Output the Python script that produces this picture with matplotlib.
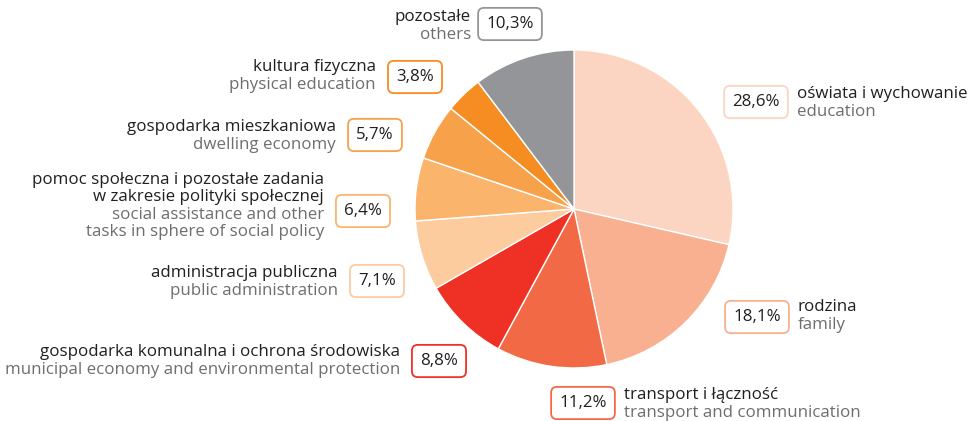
import matplotlib.pyplot as plt

# struktura wydatków
values = [28.6, 18.1, 11.2, 8.8, 7.1, 6.4, 5.7, 3.8, 10.3]
labels_pl = ["oświata i wychowanie", "rodzina", "transport i łączność",
             "gospodarka komunalna i ochrona środowiska", "administracja publiczna",
             "pomoc społeczna i pozostałe zadania\nw zakresie polityki społecznej",
             "gospodarka mieszkaniowa", "kultura fizyczna", "pozostałe"]
labels_en = ["education", "family", "transport and communication",
             "municipal economy and environmental protection", "public administration",
             "social assistance and other\ntasks in sphere of social policy",
             "dwelling economy", "physical education", "others"]
colors = ["#FCD5C2", "#F8B090", "#F26A45", "#EE3124", "#FCCB9E",
          "#FBB46C", "#F7A24B", "#F58D23", "#939598"]

plt.rcParams['font.family'] = ['Open Sans', 'DejaVu Sans']
W, H = 970, 421
fig = plt.figure(figsize=(W / 100, H / 100), dpi=100)
ax = fig.add_axes([0, 0, 1, 1])

ax.pie(values, colors=colors, startangle=90, counterclock=False,
       center=(574, H - 209), radius=159, frame=True,
       wedgeprops=dict(edgecolor="white", linewidth=1))
ax.set_xlim(0, W)
ax.set_ylim(0, H)
ax.set_aspect('equal')
ax.axis('off')

# (box centre x, box centre y, text side, text centre y) in pixels from top-left
pos = [(756, 102, "right", 103), (757, 317, "right", 316), (583, 403, "right", 404),
       (439, 361, "left", 361), (377, 281, "left", 282), (363, 211, "left", 206),
       (375, 135, "left", 136), (415, 77, "left", 76), (510, 24, "left", 26)]

fs = 12.2
step = 17.4
for v, pl, en, c, (bx, by, side, ty) in zip(values, labels_pl, labels_en, colors, pos):
    ax.text(bx, H - by, f"{v:.1f}%".replace(".", ","), fontsize=fs, color="#231F20",
            ha="center", va="center",
            bbox=dict(boxstyle="round,pad=0.48,rounding_size=0.35", fc="white",
                      ec=c, lw=1.3))
    lines = pl.split("\n") + en.split("\n")
    npl = pl.count("\n") + 1
    top = H - ty + (len(lines) - 1) * step / 2
    if side == "right":
        tx, ha = bx + 41, "left"
    else:
        tx, ha = bx - 39, "right"
    for i, line in enumerate(lines):
        col = "#231F20" if i < npl else "#6D6E71"
        ax.text(tx, top - i * step, line, fontsize=fs, color=col,
                ha=ha, va="center")

fig.savefig("out.png", dpi=100)
